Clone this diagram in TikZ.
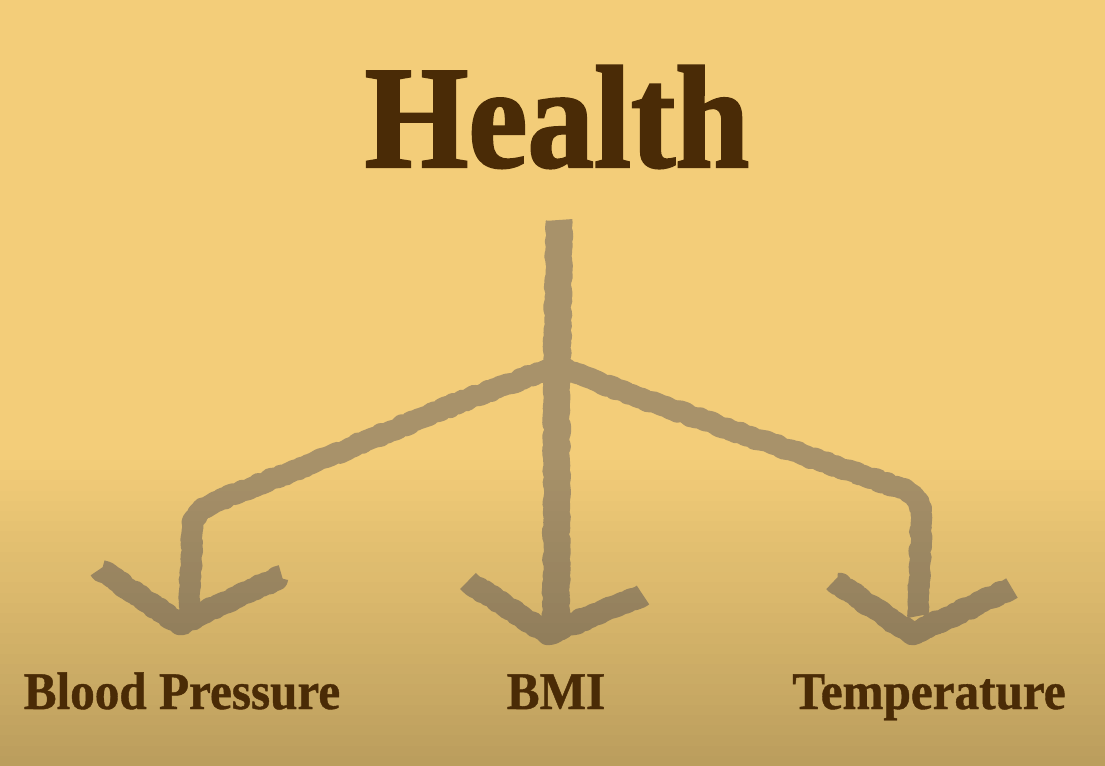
\documentclass[tikz,border=0pt]{standalone}
\usepackage{fontspec}
\usepackage{xcolor}
\usetikzlibrary{decorations.pathmorphing}
\setmainfont{Liberation Serif}
\newfontfamily\headfont{Liberation Serif}[BoldFeatures={FakeStretch=0.91,FakeBold=1.6}]
\newfontfamily\leaffont{Liberation Serif}[BoldFeatures={FakeStretch=0.93,FakeBold=0.8}]
\definecolor{canvas}{HTML}{F3CD79}
\definecolor{chalk}{HTML}{A8926A}
\definecolor{ink}{HTML}{4A2B06}

\begin{document}
\begin{tikzpicture}[x=0.025cm,y=-0.025cm,
chalkline/.style={draw=chalk,line width=15pt,line cap=butt,line join=round,decorate,decoration={random steps,segment length=2.5pt,amplitude=0.9pt}},
trunkline/.style={chalkline,line width=19pt},
headline/.style={chalkline,line width=16pt},
headword/.style={text=ink,font=\headfont\bfseries\fontsize{104}{110}\selectfont,anchor=base,inner sep=0pt},
leaf/.style={text=ink,font=\leaffont\bfseries\fontsize{37.6}{40}\selectfont,anchor=base,inner sep=0pt}]
\pgfmathsetmacro{\shadetop}{460}
\pgfmathsetseed{7}
\useasboundingbox (0,0) rectangle (1105,766);
\fill[canvas] (0,0) rectangle (1105,766);
% chalk tree
\coordinate (top) at (559,220);
\coordinate (fork) at (557,366);
\coordinate (bpend) at (189,614);
\coordinate (bmiend) at (556,630);
\coordinate (tempend) at (918,616);
\draw[trunkline] (top) -- (fork) -- (bmiend);
\draw[chalkline] (fork) -- (470,398) -- (330,456) -- (215,502) .. controls (196,510) and (192,520) .. (192,535) -- (bpend);
\draw[chalkline] (fork) -- (640,398) -- (760,440) -- (900,488) .. controls (918,494) and (922,505) .. (921,525) -- (tempend);
\draw[headline] (100,569) -- (180,624) -- (282,576);
\draw[headline] (468,581) -- (548,634) -- (643,595);
\draw[headline] (834,581) -- (912,634) -- (1012,588);
% darker lower part
\foreach \i in {0,...,29}{
  \pgfmathsetmacro\shadeop{0.23*(\i+0.5)/30}
  \fill[black,opacity=\shadeop] (0,{\shadetop+\i*10.2}) rectangle (1105,{\shadetop+(\i+1)*10.2});
}
\node[headword] (health) at (557,167) {Health};
\node[leaf] (bp) at (182,709) {Blood Pressure};
\node[leaf] (bmi) at (556,709) {BMI};
\node[leaf] (temp) at (929,709) {Temperature};
\end{tikzpicture}
\end{document}
